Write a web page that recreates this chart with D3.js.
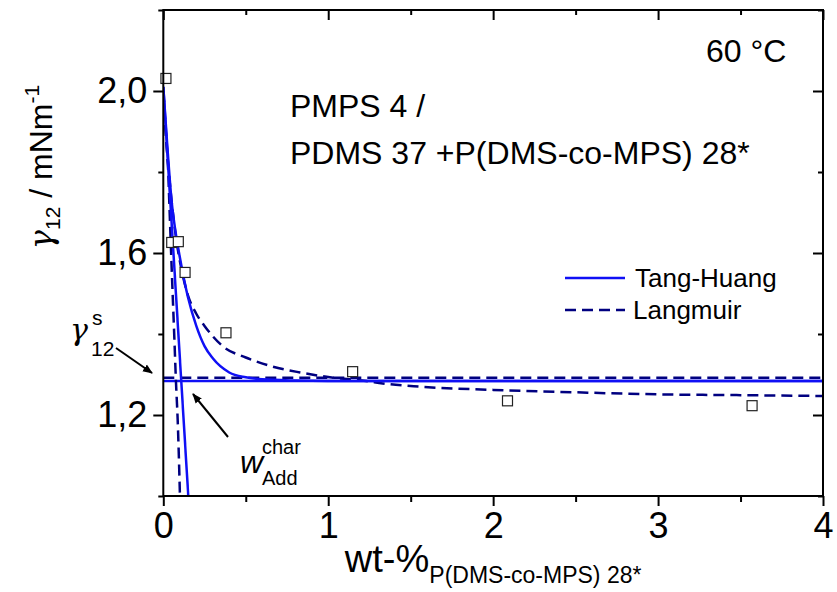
<!DOCTYPE html>
<html>
<head>
<meta charset="utf-8">
<script src="https://cdn.jsdelivr.net/npm/d3@7"></script>
<style>
  body { margin: 0; background: #fff; }
  text { font-family: "Liberation Sans", Arial, sans-serif; fill: #000; }
</style>
</head>
<body>
<div id="chart"></div>
<script>
// tick values
const xTicks = [0, 1, 2, 3, 4];
const xMinor = [0.5, 1.5, 2.5, 3.5];
const yTicks = [1.2, 1.6, 2.0];
const yMinor = [1.0, 1.4, 1.8, 2.2];

// measured points (wt-%, mN/m)
const measX = [0.016, 0.051, 0.091, 0.132, 0.38, 1.148, 2.087, 3.57];
const measY = [2.031, 1.626, 1.628, 1.552, 1.403, 1.307, 1.235, 1.223];

// Tang-Huang fit curve
const thX = [0, 0.025, 0.05, 0.075, 0.1, 0.15, 0.2, 0.25, 0.3, 0.4, 0.5, 0.6, 0.8, 1.0, 1.5, 2, 3, 4];
const thY = [2.01, 1.86, 1.73, 1.65, 1.59, 1.49, 1.42, 1.37, 1.34, 1.305, 1.293, 1.288, 1.285, 1.284, 1.284, 1.284, 1.284, 1.284];
// Tang-Huang tangent at low concentration
const thTanX = [0, 0.1515];
const thTanY = [2.01, 1.0];
const thPlateau = 1.284;

// Langmuir fit curve
const lgX = [0, 0.02, 0.05, 0.08, 0.11, 0.15, 0.2, 0.25, 0.36, 0.5, 0.65, 0.83, 1.03, 1.23, 1.33, 1.55, 2.0, 2.5, 3.0, 3.5, 4.0];
const lgY = [2.0, 1.87, 1.73, 1.63, 1.56, 1.495, 1.45, 1.42, 1.37, 1.342, 1.321, 1.305, 1.292, 1.284, 1.278, 1.27, 1.262, 1.256, 1.251, 1.249, 1.247];
// Langmuir low concentration branch
const lgTanX = [0, 0.01, 0.021, 0.03, 0.036, 0.051, 0.067, 0.077, 0.087, 0.101];
const lgTanY = [2.0, 1.93, 1.86, 1.8, 1.73, 1.56, 1.39, 1.28, 1.19, 1.0];
const lgPlateau = 1.292;

const W = 837, H = 592;
const mLeft = 163.3, mRight = 823, mTop = 10, mBottom = 496;
const blue = '#1010f5', navy = '#000080';

const svg = d3.select('#chart').append('svg')
  .attr('width', W).attr('height', H);

const x = d3.scaleLinear().domain([0, 4]).range([mLeft, mRight]);
const y = d3.scaleLinear().domain([1.0, 2.2]).range([mBottom, mTop]);

const defs = svg.append('defs');
defs.append('clipPath').attr('id', 'plot')
  .append('rect').attr('x', mLeft).attr('y', mTop)
  .attr('width', mRight - mLeft).attr('height', mBottom - mTop);

defs.append('marker')
  .attr('id', 'arrow').attr('viewBox', '0 0 10 10')
  .attr('refX', 9).attr('refY', 5)
  .attr('markerWidth', 5).attr('markerHeight', 5)
  .attr('orient', 'auto')
  .append('path').attr('d', 'M0,1 L10,5 L0,9 Z').attr('fill', '#000');

const pairs = (xs, ys) => xs.map((v, i) => [v, ys[i]]);
const line = d3.line().x(d => x(d[0])).y(d => y(d[1])).curve(d3.curveMonotoneX);
const straight = d3.line().x(d => x(d[0])).y(d => y(d[1]));

const g = svg.append('g').attr('clip-path', 'url(#plot)');

// plateaus
g.append('path').attr('d', straight([[0, lgPlateau], [4, lgPlateau]]))
  .attr('fill', 'none').attr('stroke', navy).attr('stroke-width', 2.5)
  .attr('stroke-dasharray', '11,6');
g.append('path').attr('d', straight([[0, thPlateau], [4, thPlateau]]))
  .attr('fill', 'none').attr('stroke', blue).attr('stroke-width', 2.5);

// Langmuir
g.append('path').attr('d', line(pairs(lgX, lgY)))
  .attr('fill', 'none').attr('stroke', navy).attr('stroke-width', 2.5)
  .attr('stroke-dasharray', '11,6');
g.append('path').attr('d', line(pairs(lgTanX, lgTanY)))
  .attr('fill', 'none').attr('stroke', navy).attr('stroke-width', 2.5)
  .attr('stroke-dasharray', '11,6');

// Tang-Huang
g.append('path').attr('d', line(pairs(thX, thY)))
  .attr('fill', 'none').attr('stroke', blue).attr('stroke-width', 2.5);
g.append('path').attr('d', straight(pairs(thTanX, thTanY)))
  .attr('fill', 'none').attr('stroke', blue).attr('stroke-width', 2.5);

// measured squares
svg.append('g').selectAll('rect').data(pairs(measX, measY)).join('rect')
  .attr('x', d => x(d[0]) - 5).attr('y', d => y(d[1]) - 5)
  .attr('width', 10).attr('height', 10)
  .attr('fill', '#fff').attr('stroke', '#222').attr('stroke-width', 1.2);

// axes
const styleAxis = sel => {
  sel.select('.domain').remove();
  sel.selectAll('line').attr('stroke', '#000').attr('stroke-width', 2);
  sel.selectAll('text').attr('font-size', 36).attr('fill', '#000')
    .style('font-family', '"Liberation Sans", Arial, sans-serif');
};

svg.append('g').attr('transform', `translate(0,${mBottom})`)
  .call(d3.axisBottom(x).tickValues(xTicks).tickSize(10).tickPadding(6).tickFormat(d3.format('d')))
  .call(styleAxis);
svg.append('g').attr('transform', `translate(0,${mBottom})`)
  .call(d3.axisBottom(x).tickValues(xMinor).tickSize(6).tickFormat(''))
  .call(styleAxis);

svg.append('g').attr('transform', `translate(${mLeft},0)`)
  .call(d3.axisLeft(y).tickValues(yTicks).tickSize(10).tickPadding(6)
    .tickFormat(d => d.toFixed(1).replace('.', ',')))
  .call(styleAxis);
svg.append('g').attr('transform', `translate(${mLeft},0)`)
  .call(d3.axisLeft(y).tickValues(yMinor).tickSize(5).tickFormat(''))
  .call(styleAxis);

svg.append('g').attr('transform', `translate(0,${mTop})`)
  .call(d3.axisTop(x).tickValues(xTicks).tickSize(-10).tickFormat(''))
  .call(styleAxis);
svg.append('g').attr('transform', `translate(0,${mTop})`)
  .call(d3.axisTop(x).tickValues(xMinor).tickSize(-5).tickFormat(''))
  .call(styleAxis);
svg.append('g').attr('transform', `translate(${mRight},0)`)
  .call(d3.axisRight(y).tickValues(yTicks).tickSize(-10).tickFormat(''))
  .call(styleAxis);
svg.append('g').attr('transform', `translate(${mRight},0)`)
  .call(d3.axisRight(y).tickValues(yMinor).tickSize(-5).tickFormat(''))
  .call(styleAxis);

svg.append('rect').attr('x', mLeft).attr('y', mTop)
  .attr('width', mRight - mLeft).attr('height', mBottom - mTop)
  .attr('fill', 'none').attr('stroke', '#000').attr('stroke-width', 2);

// axis titles
const xl = svg.append('text').attr('x', (mLeft + mRight) / 2).attr('y', 572)
  .attr('text-anchor', 'middle').attr('font-size', 38);
xl.append('tspan').text('wt-%');
xl.append('tspan').attr('font-size', 23).attr('dy', 11).text('P(DMS-co-MPS) 28*');

const yl = svg.append('text').attr('transform', 'translate(52,167) rotate(-90)')
  .attr('text-anchor', 'middle').attr('font-size', 32);
yl.append('tspan').attr('font-style', 'italic').style('font-family', '"DejaVu Serif", serif').text('γ');
yl.append('tspan').attr('font-size', 21).attr('dy', 8).text('12');
yl.append('tspan').attr('dy', -8).text(' / mNm');
yl.append('tspan').attr('font-size', 21).attr('dy', -13).text('-1');

// annotations
svg.append('text').attr('x', 706).attr('y', 62).attr('font-size', 32).text('60 °C');
svg.append('text').attr('x', 290).attr('y', 117).attr('font-size', 32).text('PMPS 4 /');
svg.append('text').attr('x', 290).attr('y', 164).attr('font-size', 32).text('PDMS 37 +P(DMS-co-MPS) 28*');

// legend
svg.append('path').attr('d', 'M565,278 H625').attr('stroke', blue).attr('stroke-width', 2.5);
svg.append('text').attr('x', 635).attr('y', 287).attr('font-size', 26).text('Tang-Huang');
svg.append('path').attr('d', 'M565,310 H625').attr('stroke', navy).attr('stroke-width', 2.5)
  .attr('stroke-dasharray', '11,6');
svg.append('text').attr('x', 633).attr('y', 319).attr('font-size', 26).text('Langmuir');

// gamma^s_12 label with arrow
const gs = svg.append('g');
gs.append('text').attr('x', 70).attr('y', 340).attr('font-size', 30)
  .attr('font-style', 'italic').style('font-family', '"DejaVu Serif", serif').text('γ');
gs.append('text').attr('x', 92).attr('y', 325).attr('font-size', 21).text('s');
gs.append('text').attr('x', 91).attr('y', 356).attr('font-size', 21).text('12');
svg.append('path').attr('d', 'M116,348 L152,373')
  .attr('stroke', '#000').attr('stroke-width', 2).attr('marker-end', 'url(#arrow)');

// w_Add^char label with arrow
svg.append('path').attr('d', 'M228,437 L193,394')
  .attr('stroke', '#000').attr('stroke-width', 2).attr('marker-end', 'url(#arrow)');
svg.append('text').attr('x', 240).attr('y', 473).attr('font-size', 32)
  .attr('font-style', 'italic').text('w');
svg.append('text').attr('x', 262).attr('y', 454).attr('font-size', 20).text('char');
svg.append('text').attr('x', 262).attr('y', 485).attr('font-size', 20).text('Add');
</script>
</body>
</html>
